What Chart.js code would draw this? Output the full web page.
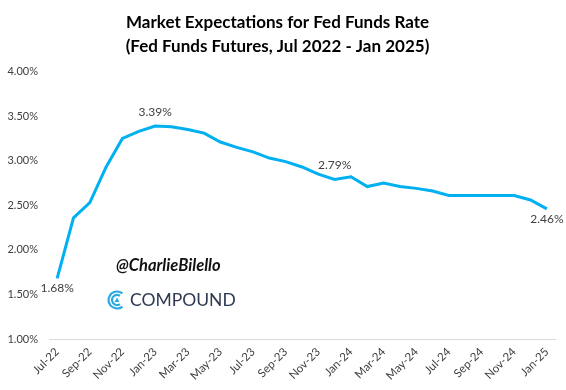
<!DOCTYPE html>
<html>
<head>
<meta charset="utf-8">
<script src="https://cdn.jsdelivr.net/npm/chart.js@4/dist/chart.umd.min.js"></script>
<style>
  html, body { margin: 0; padding: 0; background: #fff; }
  #wrap { width: 566px; height: 390px; }
</style>
</head>
<body>
<div id="wrap"><canvas id="chart"></canvas></div>
<script>
// monthly fed funds futures expectations, Jul-22 .. Jan-25
const months = [
  "Jul-22","Aug-22","Sep-22","Oct-22","Nov-22","Dec-22",
  "Jan-23","Feb-23","Mar-23","Apr-23","May-23","Jun-23",
  "Jul-23","Aug-23","Sep-23","Oct-23","Nov-23","Dec-23",
  "Jan-24","Feb-24","Mar-24","Apr-24","May-24","Jun-24",
  "Jul-24","Aug-24","Sep-24","Oct-24","Nov-24","Dec-24",
  "Jan-25"
];
const rates = [
  1.68, 2.36, 2.53, 2.93, 3.25, 3.33,
  3.39, 3.38, 3.35, 3.31, 3.21, 3.15,
  3.10, 3.03, 2.99, 2.93, 2.85, 2.79,
  2.82, 2.71, 2.75, 2.71, 2.69, 2.66,
  2.61, 2.61, 2.61, 2.61, 2.61, 2.56,
  2.46
];
// which points carry a value label, and where (above / below)
const labelled = [
  {i: 0, pos: "below"},
  {i: 6, pos: "above"},
  {i: 17, pos: "above"},
  {i: 30, pos: "below"}
];
const titleLines = [
  "Market Expectations for Fed Funds Rate",
  "(Fed Funds Futures, Jul 2022 - Jan 2025)"
];

const FONT = "Lato, 'Open Sans', sans-serif";
const GREY = "#404040";

// value labels on selected points
const pointLabels = {
  id: "pointLabels",
  afterDatasetsDraw(chart) {
    const ctx = chart.ctx;
    const meta = chart.getDatasetMeta(0);
    ctx.save();
    ctx.font = "12px " + FONT;
    ctx.fillStyle = GREY;
    ctx.textAlign = "center";
    ctx.textBaseline = "middle";
    labelled.forEach(l => {
      const p = meta.data[l.i];
      const dy = l.pos === "above" ? -14 : 10;
      ctx.fillText(rates[l.i].toFixed(2) + "%", p.x, p.y + dy);
    });
    ctx.restore();
  }
};

// @CharlieBilello / COMPOUND watermark
const watermark = {
  id: "watermark",
  afterDraw(chart) {
    const ctx = chart.ctx;
    ctx.save();
    ctx.fillStyle = "#111";
    ctx.font = "italic bold 16.5px " + FONT;
    ctx.textBaseline = "alphabetic";
    ctx.textAlign = "left";
    ctx.fillText("@CharlieBilello", 116, 271);

    // logo
    const cx = 117, cy = 300;
    ctx.strokeStyle = "#29abe2";
    ctx.lineWidth = 2.2;
    ctx.beginPath();
    ctx.arc(cx, cy, 8.5, Math.PI * 0.28, Math.PI * 1.72);
    ctx.stroke();
    ctx.beginPath();
    ctx.arc(cx, cy, 5, Math.PI * 0.3, Math.PI * 1.7);
    ctx.stroke();
    ctx.fillStyle = "#29abe2";
    ctx.beginPath();
    ctx.moveTo(cx, cy - 2.5);
    ctx.lineTo(cx + 2.5, cy + 2);
    ctx.lineTo(cx - 2.5, cy + 2);
    ctx.closePath();
    ctx.fill();

    ctx.fillStyle = "#2e3a52";
    ctx.font = "17.5px " + FONT;
    ctx.textBaseline = "middle";
    ctx.fillText("COMPOUND", 130, 300);
    ctx.restore();
  }
};

new Chart(document.getElementById("chart"), {
  type: "line",
  data: {
    labels: months,
    datasets: [{
      data: rates,
      borderColor: "#00b0f0",
      borderWidth: 3,
      pointRadius: 0,
      tension: 0,
      fill: false
    }]
  },
  options: {
    responsive: true,
    maintainAspectRatio: false,
    animation: false,
    layout: { padding: { left: 0, right: 11, top: 0, bottom: 0 } },
    plugins: {
      legend: { display: false },
      tooltip: { enabled: false },
      title: {
        display: true,
        text: titleLines,
        color: "#000",
        font: { family: FONT, size: 17, weight: "bold", lineHeight: 1.4 },
        padding: { top: 11, bottom: 13 }
      }
    },
    scales: {
      x: {
        offset: true,
        grid: { display: false, drawTicks: false },
        border: { display: true, color: "#d9d9d9", width: 1 },
        ticks: {
          autoSkip: false,
          minRotation: 45,
          maxRotation: 45,
          padding: 6,
          color: GREY,
          font: { family: FONT, size: 11.5 },
          callback: (v, i) => (i % 2 === 0 ? months[i] : "")
        },
        afterFit: s => { s.height = 51; }
      },
      y: {
        min: 1,
        max: 4,
        grid: { display: false, drawTicks: false },
        border: { display: false },
        ticks: {
          stepSize: 0.5,
          padding: 11,
          color: GREY,
          font: { family: FONT, size: 11 },
          callback: v => v.toFixed(2) + "%"
        },
        afterFit: s => { s.width = 49; }
      }
    }
  },
  plugins: [pointLabels, watermark]
});
</script>
</body>
</html>
